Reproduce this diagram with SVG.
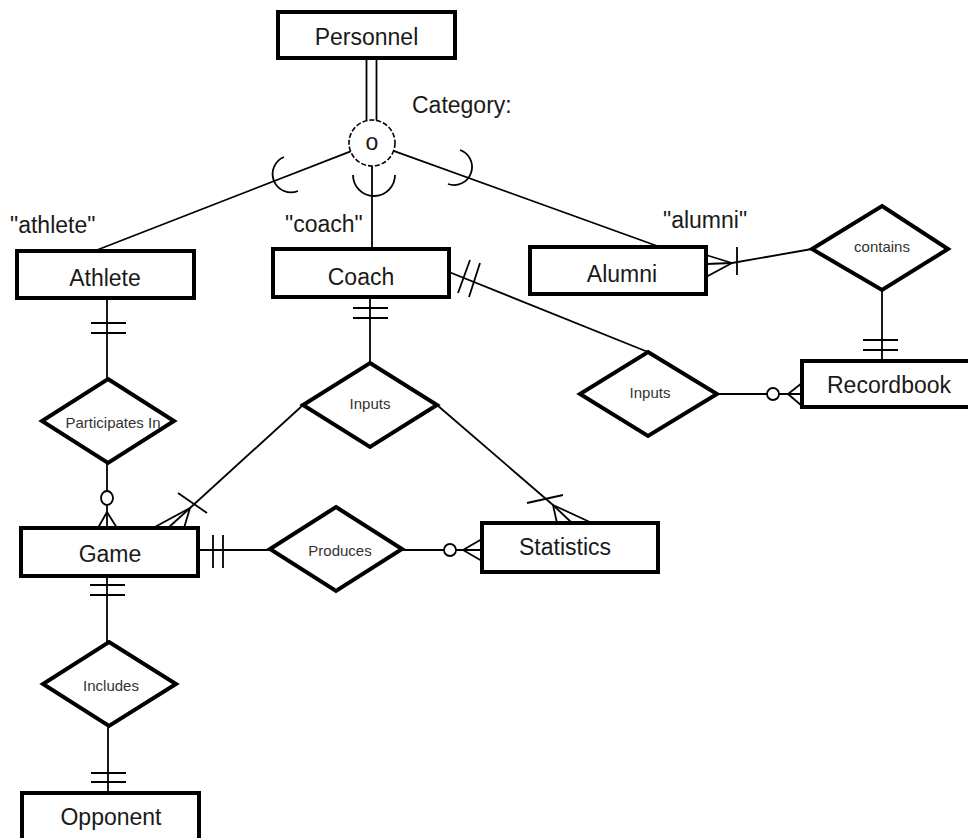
<svg xmlns="http://www.w3.org/2000/svg" width="968" height="838" viewBox="0 0 968 838">
<style>
.ent{fill:#fff;stroke:#000;stroke-width:4}
.rel{fill:#fff;stroke:#000;stroke-width:4;stroke-linejoin:miter}
.ln{fill:none;stroke:#000;stroke-width:1.8}
.dot{fill:#fff;stroke:#000;stroke-width:1.8}
.big{font-family:"Liberation Sans",Arial,sans-serif;font-size:23px;fill:#1a1a1a;text-anchor:middle}
.lbl{font-family:"Liberation Sans",Arial,sans-serif;font-size:23px;fill:#1a1a1a}
.sm{font-family:"Liberation Sans",Arial,sans-serif;font-size:15px;fill:#333;text-anchor:middle}
</style>
<rect width="968" height="838" fill="#fff"/>
<g id="connectors">
<!-- Personnel to circle double line -->
<line class="ln" x1="366.5" y1="58" x2="366.5" y2="121"/>
<line class="ln" x1="376.5" y1="58" x2="376.5" y2="121"/>
<!-- specialization lines -->
<line class="ln" x1="350.6" y1="151.3" x2="97" y2="250"/>
<line class="ln" x1="372" y1="166" x2="372" y2="248"/>
<line class="ln" x1="393.6" y1="150.8" x2="660" y2="247"/>
<path class="ln" d="M 284 157 A 18 18 0 0 0 298 191"/>
<path class="ln" d="M 353 175 A 21 21 0 0 0 395 175"/>
<path class="ln" d="M 460 150 A 18 18 0 0 1 448 184"/>
<!-- Coach to right Inputs -->
<line class="ln" x1="449" y1="272" x2="648" y2="352"/>
<line class="ln" x1="470" y1="260" x2="458" y2="293"/>
<line class="ln" x1="480" y1="263" x2="469" y2="297"/>
<!-- Coach to middle Inputs -->
<line class="ln" x1="370" y1="297" x2="370" y2="363"/>
<line class="ln" x1="353" y1="308" x2="388" y2="308"/>
<line class="ln" x1="353" y1="318" x2="388" y2="318"/>
<!-- Athlete to Participates In -->
<line class="ln" x1="107" y1="298" x2="107" y2="379"/>
<line class="ln" x1="91" y1="323" x2="126" y2="323"/>
<line class="ln" x1="91" y1="333" x2="126" y2="333"/>
<!-- Participates In to Game -->
<line class="ln" x1="107" y1="463" x2="107" y2="528"/>
<line class="ln" x1="107" y1="512" x2="98" y2="528"/>
<line class="ln" x1="107" y1="512" x2="117" y2="528"/>
<ellipse class="dot" cx="107" cy="498" rx="6" ry="7"/>
<!-- middle Inputs to Game -->
<line class="ln" x1="303" y1="405" x2="190" y2="508"/>
<line class="ln" x1="190" y1="508" x2="153" y2="528"/>
<line class="ln" x1="190" y1="508" x2="168" y2="528"/>
<line class="ln" x1="190" y1="508" x2="184" y2="528"/>
<line class="ln" x1="178" y1="493" x2="207" y2="513"/>
<!-- middle Inputs to Statistics -->
<line class="ln" x1="437" y1="405" x2="553" y2="505"/>
<line class="ln" x1="527" y1="503" x2="563" y2="495"/>
<line class="ln" x1="553" y1="505" x2="557" y2="523"/>
<line class="ln" x1="553" y1="505" x2="572" y2="523"/>
<line class="ln" x1="553" y1="505" x2="592" y2="523"/>
<!-- Game to Produces -->
<line class="ln" x1="198" y1="550" x2="270" y2="550"/>
<line class="ln" x1="213" y1="535" x2="213" y2="568"/>
<line class="ln" x1="223" y1="535" x2="223" y2="568"/>
<!-- Produces to Statistics -->
<line class="ln" x1="402" y1="550" x2="482" y2="550"/>
<line class="ln" x1="463" y1="550" x2="482" y2="539"/>
<line class="ln" x1="463" y1="550" x2="482" y2="561"/>
<circle class="dot" cx="450" cy="550" r="6"/>
<!-- Game to Includes -->
<line class="ln" x1="107" y1="576" x2="107" y2="642"/>
<line class="ln" x1="90" y1="585" x2="125" y2="585"/>
<line class="ln" x1="90" y1="595" x2="125" y2="595"/>
<!-- Includes to Opponent -->
<line class="ln" x1="108" y1="726" x2="108" y2="793"/>
<line class="ln" x1="91" y1="773" x2="126" y2="773"/>
<line class="ln" x1="91" y1="782" x2="126" y2="782"/>
<!-- Alumni to contains -->
<line class="ln" x1="732" y1="263" x2="812" y2="249"/>
<line class="ln" x1="732" y1="263" x2="706" y2="255"/>
<line class="ln" x1="732" y1="263" x2="706" y2="264"/>
<line class="ln" x1="732" y1="263" x2="706" y2="277"/>
<line class="ln" x1="737" y1="247" x2="737" y2="275"/>
<!-- contains to Recordbook -->
<line class="ln" x1="882" y1="290" x2="882" y2="361"/>
<line class="ln" x1="863" y1="340" x2="898" y2="340"/>
<line class="ln" x1="863" y1="350" x2="898" y2="350"/>
<!-- right Inputs to Recordbook -->
<line class="ln" x1="717" y1="394" x2="802" y2="394"/>
<line class="ln" x1="788" y1="394" x2="802" y2="383"/>
<line class="ln" x1="788" y1="394" x2="802" y2="406"/>
<circle class="dot" cx="773" cy="394" r="6"/>
</g>
<g id="personnel"><rect class="ent" x="278" y="12" width="177" height="46"/><text class="big" x="366.5" y="45" font-size="24">Personnel</text></g>
<g id="category"><circle cx="372" cy="143" r="23" fill="#fff" stroke="#000" stroke-width="1.6" stroke-dasharray="5 2"/><text class="big" x="372" y="150" font-size="22">o</text><text class="lbl" x="412" y="113" font-size="24">Category:</text></g>
<g id="label-athlete"><text class="lbl" x="10" y="233">"athlete"</text></g>
<g id="label-coach"><text class="lbl" x="285" y="232">"coach"</text></g>
<g id="label-alumni"><text class="lbl" x="663" y="228">"alumni"</text></g>
<g id="athlete"><rect class="ent" x="17" y="251" width="177" height="47"/><text class="big" x="105" y="286">Athlete</text></g>
<g id="coach"><rect class="ent" x="273" y="249" width="176" height="48"/><text class="big" x="361" y="285">Coach</text></g>
<g id="alumni"><rect class="ent" x="530" y="247" width="176" height="47"/><text class="big" x="622" y="282">Alumni</text></g>
<g id="contains"><polygon class="rel" points="882,206 948,249 882,290 812,249"/><text class="sm" x="882" y="252">contains</text></g>
<g id="recordbook"><rect class="ent" x="802" y="361" width="175" height="46"/><text class="big" x="889" y="393">Recordbook</text></g>
<g id="inputs-right"><polygon class="rel" points="648,352 717,394 648,436 580,394"/><text class="sm" x="650" y="398">Inputs</text></g>
<g id="participates-in"><polygon class="rel" points="108,379 174,421 108,463 42,421"/><text class="sm" x="113" y="428">Participates In</text></g>
<g id="inputs-middle"><polygon class="rel" points="370,363 437,405 370,447 303,405"/><text class="sm" x="370" y="409">Inputs</text></g>
<g id="game"><rect class="ent" x="21" y="528" width="177" height="48"/><text class="big" x="110" y="562">Game</text></g>
<g id="produces"><polygon class="rel" points="336,507 402,549 336,591 270,549"/><text class="sm" x="340" y="556">Produces</text></g>
<g id="statistics"><rect class="ent" x="482" y="523" width="176" height="49"/><text class="big" x="565" y="555">Statistics</text></g>
<g id="includes"><polygon class="rel" points="109,642 176,684 109,726 43,684"/><text class="sm" x="111" y="691">Includes</text></g>
<g id="opponent"><rect class="ent" x="22" y="793" width="177" height="50"/><text class="big" x="111" y="825">Opponent</text></g>
</svg>
